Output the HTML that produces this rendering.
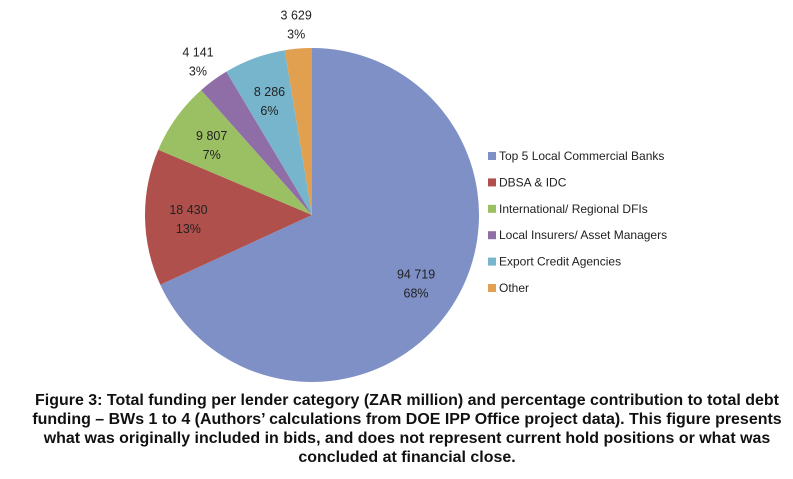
<!DOCTYPE html>
<html><head><meta charset="utf-8"><style>
body{margin:0;background:#fff;width:793px;height:479px;overflow:hidden;font-family:"Liberation Sans",sans-serif}
#cap{position:absolute;left:7px;top:391px;width:800px;text-align:center;font-weight:bold;font-size:15.5px;line-height:19px;color:#111;white-space:nowrap;transform:scaleX(1.03);transform-origin:400px 0}
</style></head><body>
<svg id="chart" width="793" height="390" style="position:absolute;left:0;top:0"></svg>
<div id="cap">Figure 3: Total funding per lender category (ZAR million) and percentage contribution to total debt<br>funding – BWs 1 to 4 (Authors’ calculations from DOE IPP Office project data). This figure presents<br>what was originally included in bids, and does not represent current hold positions or what was<br>concluded at financial close.</div>
<script>
const categories=["Top 5 Local Commercial Banks","DBSA & IDC","International/ Regional DFIs","Local Insurers/ Asset Managers","Export Credit Agencies","Other"];
const values=[94719,18430,9807,4141,8286,3629];
const valueLabels=["94 719","18 430","9 807","4 141","8 286","3 629"];
const pctLabels=["68%","13%","7%","3%","6%","3%"];
const colors=["#7f90c6","#b0504c","#9bc063","#8f6ea8","#76b5cc","#e0a050"];
const svg=document.getElementById('chart');const NS="http://www.w3.org/2000/svg";
const cx=312,cy=215,r=167;
const total=values.reduce((a,b)=>a+b,0);
function pt(a,rr){return [cx+rr*Math.sin(a),cy-rr*Math.cos(a)];}
let a0=0;
values.forEach((v,i)=>{
 const a1=a0+v/total*2*Math.PI;
 const p0=pt(a0,r),p1=pt(a1,r);
 const p=document.createElementNS(NS,'path');
 p.setAttribute('d',`M${cx},${cy}L${p0[0]},${p0[1]}A${r},${r} 0 ${a1-a0>Math.PI?1:0} 1 ${p1[0]},${p1[1]}Z`);
 p.setAttribute('fill',colors[i]);
 
 
 svg.appendChild(p);
 const am=(a0+a1)/2;const frac=v/total;
 const lr=frac<0.04?r+26:r*0.74;
 const lp=pt(am,lr);
 [valueLabels[i],pctLabels[i]].forEach((s,k)=>{
  const t=document.createElementNS(NS,'text');
  t.setAttribute('x',lp[0]);t.setAttribute('y',lp[1]+(k?16:-3));
  t.setAttribute('text-anchor','middle');t.setAttribute('font-size','12.5');t.setAttribute('fill','#222');
  t.setAttribute('font-family','Liberation Sans, sans-serif');
  t.textContent=s;
  
  
  svg.appendChild(t);
 });
 a0=a1;
});
categories.forEach((c,i)=>{
 const y=156+i*26.4;
 const rc=document.createElementNS(NS,'rect');
 rc.setAttribute('x',488);rc.setAttribute('y',y-4);rc.setAttribute('width',8);rc.setAttribute('height',8);rc.setAttribute('fill',colors[i]);
 
 
 svg.appendChild(rc);
 const t=document.createElementNS(NS,'text');
 t.setAttribute('x',499);t.setAttribute('y',y+4);t.setAttribute('font-size','12');t.setAttribute('fill','#222');
 t.setAttribute('font-family','Liberation Sans, sans-serif');
 t.textContent=c;
 
 
 svg.appendChild(t);
});
</script>
</body></html>
